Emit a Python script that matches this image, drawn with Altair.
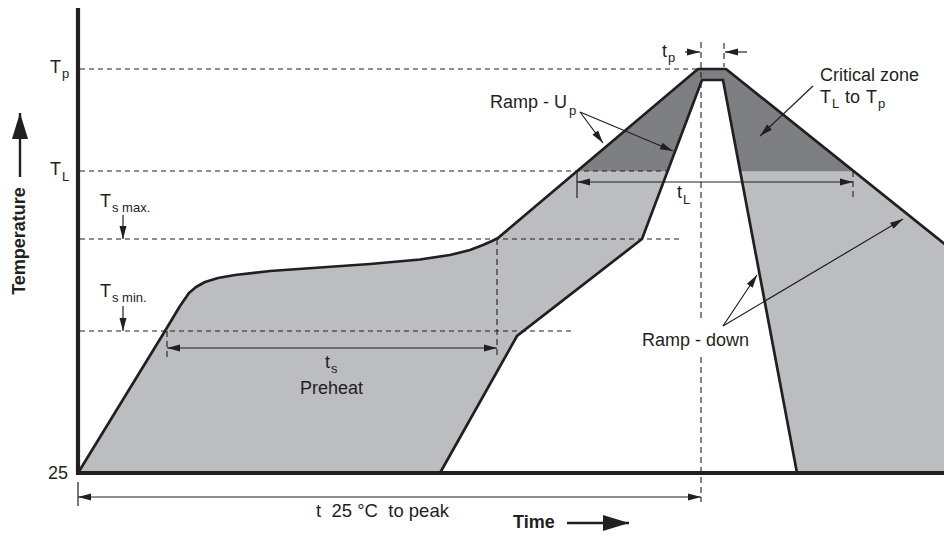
import math
import altair as alt
import pandas as pd

INK = "#231F20"
LIGHT = "#BCBDC0"
DARK = "#7E7F82"
FONT = "Liberation Sans"

# ---------------- data (time units horizontally, temperature units vertically) -------------
# hot-side (outer) profile boundary
outer_t = [0, 87, 102, 111, 118, 127, 140, 157, 192, 242, 292, 342, 372, 392, 405, 414, 420, 620, 648, 874]
outer_T = [0, 142, 167, 180, 186, 191, 195, 198, 202, 205.5, 209, 213.5, 218, 223, 228, 232, 235, 404, 404, 223]
# cold-side (inner) profile boundary
inner_t = [362, 439, 564, 624, 645, 719]
inner_T = [0, 137, 234, 393, 393, 0]
corner_t = [874]
corner_T = [0]
# critical zone (TL to Tp)
crit_t = [499, 620, 648, 775, 662, 645, 624, 590]
crit_T = [302, 404, 404, 302, 302, 393, 393, 302]

# temperature levels (dashed guides): Tp, TL, Ts max, Ts min
level_T = [404, 302, 234, 142]
level_start_t = [2, 2, 2, 2]
level_end_t = [620, 590, 602, 494]

# vertical dashed guides (peak line is broken around the "Ramp - down" label)
vguide_t = [419, 89, 623, 623, 646, 775]
vguide_T0 = [234, 142, 431, 116, 430, 302]
vguide_T1 = [116, 115, 153, -29, 406, 275]

# solid ticks
tick_t = [499, 0]
tick_T0 = [302, -9]
tick_T1 = [275, -33]

# double headed spans: ts, tL, t 25 to peak
span_t0 = [89, 499, 0]
span_t1 = [419, 775, 623]
span_T = [125, 291, -24]

# single arrows: tail -> tip
arrow_t0 = [607, 669, 45, 45, 502, 502, 735, 645, 645]
arrow_T0 = [421, 421, 258, 167, 361, 361, 387, 147, 147]
arrow_t1 = [622, 647, 45, 45, 525, 595, 682, 679, 825]
arrow_T1 = [421, 421, 234, 142, 330, 322, 337, 198, 254]

# axis-title arrows (Temperature, Time)
big_t0 = [-58, 489]
big_T0 = [296, -50]
big_t1 = [-58, 551]
big_T1 = [360, -50]

# axis frame
frame_t0 = [0, -2]
frame_T0 = [-2, 0]
frame_t1 = [0, 874]
frame_T1 = [470, 0]

# labels
main_text = ["T", "T", "T", "T", "t", "t", "t", "Ramp - U", "Ramp - down", "Critical zone", "T", "to", "T"]
main_t = [-28, -28, 22, 22, 584, 247, 599, 412, 564, 742, 742, 767, 788]
main_T = [400, 298, 266, 176, 416, 105, 275, 365, 127, 392, 370, 370, 370]
sub_text = ["p", "L", "s max.", "s min.", "p", "s", "L", "p", "L", "p"]
sub_t = [-16, -16, 34, 34, 590, 253, 605, 491, 754, 800]
sub_T = [395, 292, 261, 171, 411, 100, 269, 358, 365, 365]
center_text = ["Preheat"]
center_t = [253.5]
center_T = [79]
peak_text = ["t\u00a0 25 °C\u00a0 to peak"]
peak_t = [304.5]
peak_T = [-44]
tick_label = ["25"]
tick_label_t = [-10]
tick_label_T = [-6]

# ---------------- chart ----------------
sx = alt.Scale(domain=[-70, 866], nice=False, zero=False)
sy = alt.Scale(domain=[-60, 465], nice=False, zero=False)


def X(f="t"):
    return alt.X(f"{f}:Q", scale=sx, axis=None)


def Y(f="T"):
    return alt.Y(f"{f}:Q", scale=sy, axis=None)


def segs(t0, T0, t1, T1):
    return pd.DataFrame({"t": t0, "T": T0, "t2": t1, "T2": T1})


def rule_layer(df, width, dash=None, color=INK):
    kw = dict(color=color, strokeWidth=width, strokeCap="butt")
    if dash:
        kw["strokeDash"] = dash
    return alt.Chart(df).mark_rule(**kw).encode(X(), Y(), x2="t2:Q", y2="T2:Q")


poly_t = outer_t + corner_t + inner_t[::-1]
poly_T = outer_T + corner_T + inner_T[::-1]
poly = pd.DataFrame({"t": poly_t, "T": poly_T, "o": list(range(len(poly_t)))})
crit = pd.DataFrame({"t": crit_t, "T": crit_T, "o": list(range(len(crit_t)))})

light = alt.Chart(poly).mark_line(fill=LIGHT, stroke=LIGHT, strokeWidth=0.5).encode(X(), Y(), order="o:Q")
dark = alt.Chart(crit).mark_line(fill=DARK, stroke=DARK, strokeWidth=0.5).encode(X(), Y(), order="o:Q")

outer = pd.DataFrame({"t": outer_t, "T": outer_T, "o": list(range(len(outer_t)))})
inner = pd.DataFrame({"t": inner_t, "T": inner_T, "o": list(range(len(inner_t)))})
outer_line = alt.Chart(outer).mark_line(color=INK, strokeWidth=2.7, strokeJoin="round").encode(X(), Y(), order="o:Q")
inner_line = alt.Chart(inner).mark_line(color=INK, strokeWidth=2.7, strokeJoin="miter").encode(X(), Y(), order="o:Q")

levels = rule_layer(segs(level_start_t, level_T, level_end_t, level_T), 1.1, [5, 4])
vguides = rule_layer(segs(vguide_t, vguide_T0, vguide_t, vguide_T1), 1.1, [6, 4])
ticks = rule_layer(segs(tick_t, tick_T0, tick_t, tick_T1), 1.2)
spans = rule_layer(segs(span_t0, span_T, span_t1, span_T), 1.2)
arrows = rule_layer(segs(arrow_t0, arrow_T0, arrow_t1, arrow_T1), 1.2)
bigs = rule_layer(segs(big_t0, big_T0, big_t1, big_T1), 2.4)
frame = rule_layer(segs(frame_t0, frame_T0, frame_t1, frame_T1), 4.2)


def ang(t0, T0, t1, T1):
    return math.degrees(math.atan2(-(T1 - T0), t1 - t0)) % 360


heads = []
for a, b, c, d in zip(arrow_t0, arrow_T0, arrow_t1, arrow_T1):
    heads.append({"t": c, "T": d, "ang": ang(a, b, c, d)})
for a, c, y in zip(span_t0, span_t1, span_T):
    heads.append({"t": c, "T": y, "ang": ang(a, y, c, y)})
    heads.append({"t": a, "T": y, "ang": ang(c, y, a, y)})
heads = pd.DataFrame(heads)
big_heads = pd.DataFrame([{"t": c, "T": d, "ang": ang(a, b, c, d)}
                          for a, b, c, d in zip(big_t0, big_T0, big_t1, big_T1)])

small_head = alt.Chart(heads).mark_point(
    shape="M0,0L-1,-0.27L-1,0.27Z", size=676, filled=True, color=INK, opacity=1, strokeWidth=0
).encode(X(), Y(), angle=alt.Angle("ang:Q", scale=None))
big_head = alt.Chart(big_heads).mark_point(
    shape="M0,0L-1,-0.31L-1,0.31Z", size=2704, filled=True, color=INK, opacity=1, strokeWidth=0
).encode(X(), Y(), angle=alt.Angle("ang:Q", scale=None))


def text_layer(texts, ts, Ts, size, align="left", weight="normal", angle=0, baseline="alphabetic"):
    df = pd.DataFrame({"text": texts, "t": ts, "T": Ts})
    kw = dict(align=align, baseline=baseline, font=FONT, fontSize=size, fontWeight=weight, color=INK)
    if angle:
        kw["angle"] = angle
    return alt.Chart(df).mark_text(**kw).encode(X(), Y(), text="text:N")


t_main = text_layer(main_text, main_t, main_T, 18)
t_sub = text_layer(sub_text, sub_t, sub_T, 13)
t_center = text_layer(center_text, center_t, center_T, 18, align="center")
t_peak = text_layer(peak_text, peak_t, peak_T, 18.5, align="center")
t_tick = text_layer(tick_label, tick_label_t, tick_label_T, 18, align="right")
t_time = text_layer(["Time"], [435], [-58.5], 18, weight="bold", baseline="bottom")
t_temp = text_layer(["Temperature"], [-58], [232], 18, align="center", weight="bold", angle=270, baseline="middle")

chart = alt.layer(
    light, dark, levels, vguides, ticks, spans, arrows, bigs, frame,
    outer_line, inner_line, small_head, big_head,
    t_main, t_sub, t_center, t_peak, t_tick, t_time, t_temp,
).properties(
    width=936, height=525, autosize=alt.AutoSizeParams(type="none"), padding=0, background="white"
).configure_view(stroke=None)

chart.save("out.html", embed_options={"renderer": "svg", "actions": False})
